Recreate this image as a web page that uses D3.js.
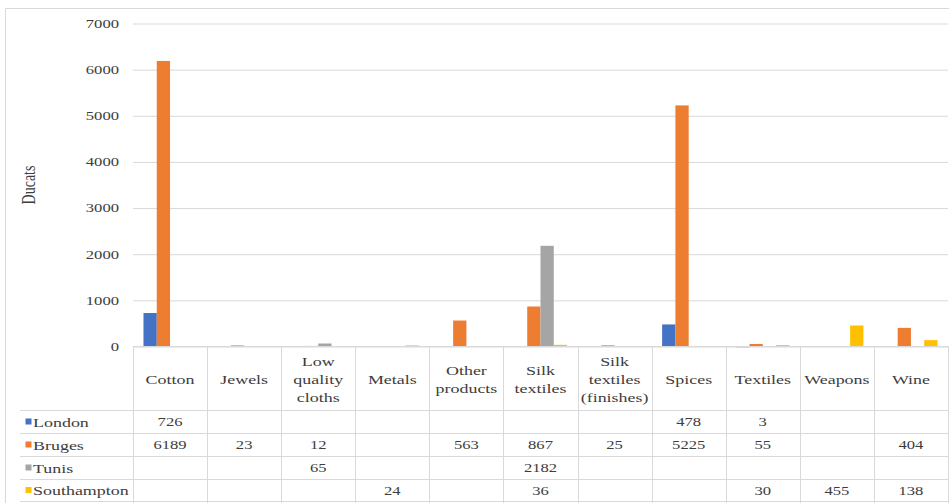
<!DOCTYPE html>
<html>
<head>
<meta charset="utf-8">
<script src="https://cdn.jsdelivr.net/npm/d3@7"></script>
<style>
  html, body { margin: 0; padding: 0; background: #ffffff; }
  svg { display: block; }
</style>
</head>
<body>
<svg id="chart" width="949" height="503"></svg>
<script>
// Goods traded, in ducats, by destination
const categories = ["Cotton", "Jewels", "Low quality cloths", "Metals", "Other products",
  "Silk textiles", "Silk textiles (finishes)", "Spices", "Textiles", "Weapons", "Wine"];
const headerLines = [["Cotton"], ["Jewels"], ["Low", "quality", "cloths"], ["Metals"], ["Other", "products"],
  ["Silk", "textiles"], ["Silk", "textiles", "(finishes)"], ["Spices"], ["Textiles"], ["Weapons"], ["Wine"]];
const seriesNames = ["London", "Bruges", "Tunis", "Southampton"];
const london      = [726, null, null, null, null, null, null, 478, 3, null, null];
const bruges      = [6189, 23, 12, null, 563, 867, 25, 5225, 55, null, 404];
const tunis       = [null, null, 65, null, null, 2182, null, null, null, null, null];
const southampton = [null, null, null, 24, null, 36, null, null, 30, 455, 138];
const yTicks = [0, 1000, 2000, 3000, 4000, 5000, 6000, 7000];
const colors = ["#4472C4", "#ED7D31", "#A5A5A5", "#FFC000"];

const seriesValues = [london, bruges, tunis, southampton];

const FONT = "'Liberation Serif', 'DejaVu Serif', serif";
const TEXT_COLOR = "#3d3d3d";
const SX = 1.33;            // wide set of the serif face
const gridColor = "#d9d9d9";

const svg = d3.select("#chart");

// text helper: places a horizontally widened label at (x, y)
function label(parent, x, y, str, size, anchor, rotate) {
  const g = parent.append("g")
    .attr("transform", `translate(${x},${y}) scale(${SX},1)` + (rotate ? ` rotate(${rotate})` : ""));
  return g.append("text")
    .attr("x", 0).attr("y", 0).attr("dy", "0.35em")
    .attr("text-anchor", anchor || "middle")
    .attr("font-size", size)
    .style("font-family", FONT)
    .attr("fill", TEXT_COLOR)
    .text(str);
}

// outer chart frame
svg.append("path")
  .attr("d", "M5.5,503 V8.5 H949")
  .attr("fill", "none").attr("stroke", gridColor).attr("stroke-width", 1);

const plotLeft = 133, plotRight = 948, plotTop = 23.5, plotBottom = 346.5;

const x = d3.scaleBand().domain(categories).range([plotLeft, plotRight]).padding(0);
const x1 = d3.scaleBand().domain(seriesNames).range([0, x.bandwidth()])
  .paddingInner(0).paddingOuter(0.79);
const y = d3.scaleLinear().domain([0, 7000]).range([plotBottom, plotTop]);

// gridlines
const yAxis = d3.axisLeft(y).tickValues(yTicks).tickSize(-(plotRight - plotLeft)).tickFormat("");
const gy = svg.append("g").attr("transform", `translate(${plotLeft},0)`).call(yAxis);
gy.select(".domain").remove();
gy.selectAll(".tick line").attr("stroke", gridColor);

// y tick labels
const yLabels = svg.append("g");
yTicks.forEach(t => label(yLabels, 119, y(t), d3.format("d")(t), 12.5, "end"));

// axis title
label(svg, 28, 185, "Ducats", 14, "middle", -90);

// bars
const barData = [];
seriesNames.forEach((s, si) => {
  categories.forEach((c, ci) => {
    const v = seriesValues[si][ci];
    if (v !== null) barData.push({ series: s, cat: c, value: v, color: colors[si] });
  });
});
svg.append("g").selectAll("rect").data(barData).join("rect")
  .attr("x", d => x(d.cat) + x1(d.series))
  .attr("width", x1.bandwidth())
  .attr("y", d => y(d.value))
  .attr("height", d => Math.max(0.8, y(0) - y(d.value)))
  .attr("fill", d => d.color);

// data table under the plot
const tableTop = plotBottom;
const headerBottom = 410;
const rowBounds = [410, 433, 456, 479, 501];
const tableLeft = 20;
const table = svg.append("g");

// horizontal rules
table.append("line")
  .attr("x1", plotLeft).attr("x2", plotRight + 1)
  .attr("y1", tableTop).attr("y2", tableTop)
  .attr("stroke", gridColor);
rowBounds.forEach(yy => {
  table.append("line")
    .attr("x1", tableLeft).attr("x2", plotRight + 1)
    .attr("y1", yy + 0.5).attr("y2", yy + 0.5)
    .attr("stroke", gridColor);
});
// vertical rules
categories.concat([null]).forEach(c => {
  const xx = c === null ? plotRight : x(c);
  table.append("line")
    .attr("x1", Math.round(xx) + 0.5).attr("x2", Math.round(xx) + 0.5)
    .attr("y1", tableTop).attr("y2", 503)
    .attr("stroke", gridColor);
});

// category headers
const headerMid = (tableTop + headerBottom) / 2 + 1;
categories.forEach((c, i) => {
  const lines = headerLines[i];
  const lh = 18.3;
  lines.forEach((ln, li) => {
    label(table, x(c) + x.bandwidth() / 2,
      headerMid + (li - (lines.length - 1) / 2) * lh, ln, 13.5, "middle");
  });
});

// legend keys + values per row
seriesNames.forEach((s, si) => {
  const r0 = rowBounds[si], r1 = rowBounds[si + 1];
  const cy = (r0 + r1) / 2 + 0.5;
  table.append("rect")
    .attr("x", 25.5).attr("y", cy - 3.5)
    .attr("width", 6).attr("height", 6)
    .attr("fill", colors[si]);
  label(table, 33, cy, s, 13.5, "start");
  categories.forEach((c, ci) => {
    const v = seriesValues[si][ci];
    if (v === null) return;
    label(table, x(c) + x.bandwidth() / 2, cy, v, 12.5, "middle");
  });
});
</script>
</body>
</html>
